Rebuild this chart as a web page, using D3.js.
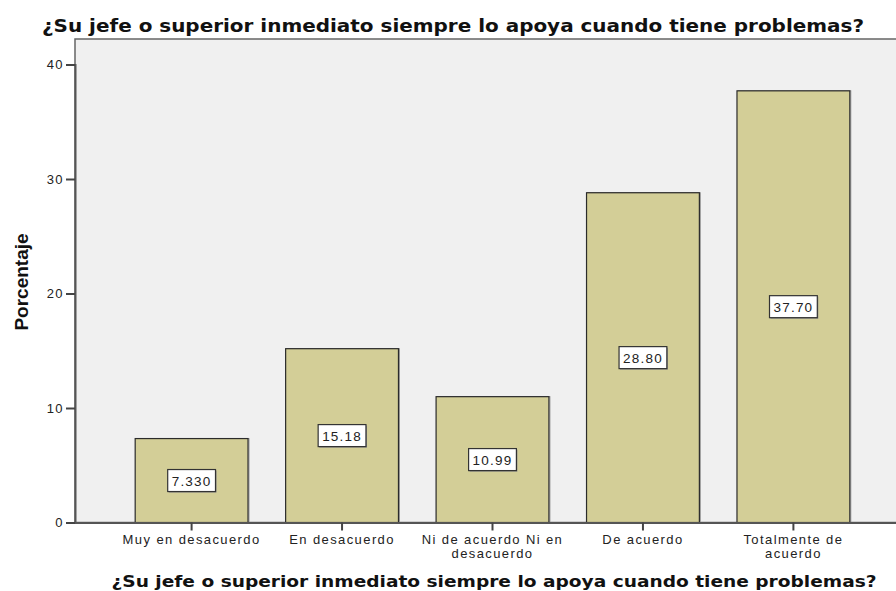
<!DOCTYPE html>
<html>
<head>
<meta charset="utf-8">
<script src="https://cdn.jsdelivr.net/npm/d3@7"></script>
<style>
  body { margin: 0; background: #fff; }
  .tick text { font-family: "Liberation Sans", Arial, sans-serif; font-size: 13px; letter-spacing: 1.4px; fill: #222; }
  .cat-line { font-family: "Liberation Sans", Arial, sans-serif; font-size: 12.5px; letter-spacing: 1.6px; fill: #222; }
</style>
</head>
<body>
<div id="chart"></div>
<script>
var w = 896;
var h = 591;

// data
var categories = ["Muy en desacuerdo", "En desacuerdo", "Ni de acuerdo Ni en desacuerdo", "De acuerdo", "Totalmente de acuerdo"];
var tickLines = [["Muy en desacuerdo"], ["En desacuerdo"], ["Ni de acuerdo Ni en", "desacuerdo"], ["De acuerdo"], ["Totalmente de", "acuerdo"]];
var percentages = [7.330, 15.18, 10.99, 28.80, 37.70];
var yTicks = [0, 10, 20, 30, 40];
var chartTitle = "¿Su jefe o superior inmediato siempre lo apoya cuando tiene problemas?";
var yTitle = "Porcentaje";

// plot frame (right side runs past the window, like the original)
var plotLeft = 75, plotTop = 39, plotRight = 910, plotBottom = 522.5;

var svg = d3.select("#chart")
    .append("svg")
    .attr("width", w)
    .attr("height", h);

var x = d3.scaleBand()
    .domain(categories)
    .range([plotLeft, plotRight])
    .paddingInner(0.25)
    .paddingOuter(0.4);

var y = d3.scaleLinear()
    .domain([0, 40])
    .range([plotBottom, 64.5]);

// background of the plot area
svg.append("rect")
    .attr("x", plotLeft)
    .attr("y", plotTop)
    .attr("width", plotRight - plotLeft)
    .attr("height", plotBottom - plotTop)
    .attr("fill", "#f0f0f0")
    .attr("stroke", "#666")
    .attr("stroke-width", 1.5);

// bars
var bars = svg.selectAll(".bar")
    .data(percentages)
    .enter().append("g")
    .attr("class", "bar");

bars.append("rect")
    .attr("x", function(d, i) { return x(categories[i]) + 1; })
    .attr("y", function(d) { return y(d); })
    .attr("width", x.bandwidth())
    .attr("height", function(d) { return y(0) - y(d); })
    .attr("fill", "none")
    .attr("stroke", "#999")
    .attr("stroke-width", 1);

bars.append("rect")
    .attr("x", function(d, i) { return x(categories[i]); })
    .attr("y", function(d) { return y(d); })
    .attr("width", x.bandwidth())
    .attr("height", function(d) { return y(0) - y(d); })
    .attr("fill", "#d3ce97")
    .attr("stroke", "#2b2b2b")
    .attr("stroke-width", 1.2);

// value labels in white boxes, middle of each bar
var fmt = d3.format(".4r");
var labels = bars.append("g")
    .attr("transform", function(d, i) {
        return "translate(" + (x(categories[i]) + x.bandwidth() / 2) + "," + ((y(d) + y(0)) / 2) + ")";
    });

labels.append("text")
    .attr("text-anchor", "middle")
    .attr("y", 5)
    .style("font-family", "'Liberation Sans', Arial, sans-serif")
    .style("font-size", "13.5px")
    .style("letter-spacing", "1.2px")
    .attr("fill", "#222")
    .text(function(d) { return fmt(d); });

labels.each(function() {
    var g = d3.select(this);
    var tw = g.select("text").node().getComputedTextLength();
    var bw = tw + 8, bh = 22;
    g.insert("rect", "text")
        .attr("x", -bw / 2 + 1)
        .attr("y", -bh / 2 + 1)
        .attr("width", bw)
        .attr("height", bh)
        .attr("fill", "#888");
    g.insert("rect", "text")
        .attr("x", -bw / 2)
        .attr("y", -bh / 2)
        .attr("width", bw)
        .attr("height", bh)
        .attr("fill", "#fff")
        .attr("stroke", "#333")
        .attr("stroke-width", 1.2);
});

// axes
var yAxis = d3.axisLeft(y)
    .tickValues(yTicks)
    .tickSize(9)
    .tickPadding(2);

var yG = svg.append("g")
    .attr("transform", "translate(" + plotLeft + ",0)")
    .call(yAxis);
yG.select(".domain").attr("stroke", "#555").attr("stroke-width", 2);
yG.selectAll(".tick line").attr("stroke", "#444").attr("stroke-width", 2);

var xAxis = d3.axisBottom(x)
    .tickSize(8)
    .tickSizeOuter(0);

var xG = svg.append("g")
    .attr("transform", "translate(0," + plotBottom + ")")
    .call(xAxis);
xG.select(".domain").attr("stroke", "#555").attr("stroke-width", 2);
xG.selectAll(".tick line").attr("stroke", "#444").attr("stroke-width", 2);

// category labels: one text per line so the lines sit tight but apart
xG.selectAll(".tick text").remove();
xG.selectAll(".tick").each(function(d, i) {
    var t = d3.select(this);
    tickLines[i].forEach(function(line, j) {
        t.append("text")
            .attr("class", "cat-line")
            .attr("x", 0)
            .attr("y", 21 + j * 14)
            .attr("text-anchor", "middle")
            .text(line);
    });
});

// titles
svg.append("text")
    .attr("x", 453)
    .attr("y", 32)
    .attr("text-anchor", "middle")
    .attr("textLength", 822)
    .attr("lengthAdjust", "spacingAndGlyphs")
    .style("font-family", "'DejaVu Sans', Verdana, sans-serif")
    .style("font-weight", "bold")
    .style("font-size", "17px")
    .attr("fill", "#111")
    .text(chartTitle);

svg.append("text")
    .attr("x", 494)
    .attr("y", 587)
    .attr("text-anchor", "middle")
    .attr("textLength", 765)
    .attr("lengthAdjust", "spacingAndGlyphs")
    .style("font-family", "'DejaVu Sans', Verdana, sans-serif")
    .style("font-weight", "bold")
    .style("font-size", "16px")
    .attr("fill", "#111")
    .text(chartTitle);

svg.append("text")
    .attr("transform", "translate(28,282) rotate(-90)")
    .attr("text-anchor", "middle")
    .style("font-family", "'Liberation Sans Narrow', 'Arial Narrow', 'Liberation Sans', sans-serif")
    .style("font-weight", "bold")
    .style("font-size", "19px")
    .attr("fill", "#111")
    .text(yTitle);
</script>
</body>
</html>
